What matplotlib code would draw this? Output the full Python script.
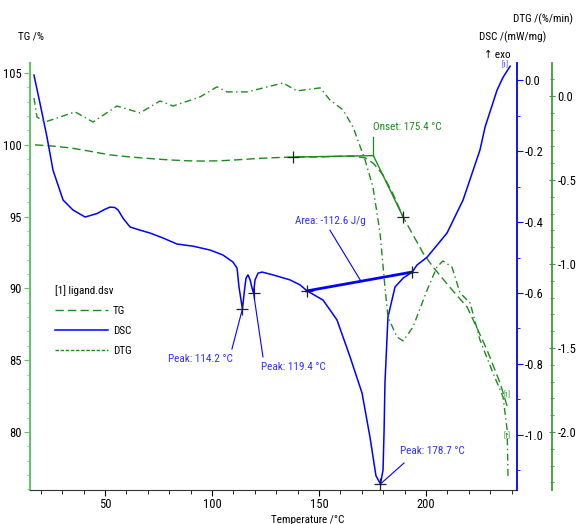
import matplotlib
matplotlib.use("Agg")
import matplotlib.pyplot as plt
from matplotlib.ticker import MultipleLocator, FormatStrFormatter
from matplotlib.lines import Line2D

plt.rcParams.update({
    "font.family": ["Roboto Condensed", "Liberation Sans Narrow", "DejaVu Sans"],
    "font.stretch": "condensed",
    "axes.unicode_minus": False,
    "font.size": 9,
})

# ---- data ----
tg_temp = [17.3, 25, 33.6, 42, 52.3, 62, 72.4, 80, 88.3, 96, 103.7, 111, 119.2,
           128, 137.9, 150.5, 164.5, 171.5, 175.5, 179.9, 184.5, 189.3, 198.6,
           203.3, 211, 219.2, 223, 228.5, 234.6, 238.3]
tg_mass = [100.0, 99.92, 99.79, 99.58, 99.30, 99.15, 99.03, 98.95, 98.89, 98.87,
           98.89, 98.95, 99.03, 99.10, 99.15, 99.16, 99.22, 99.10, 98.70, 97.90,
           96.6, 94.97, 92.46, 91.49, 90.1, 88.7, 87.5, 85.71, 83.41, 81.6]

dsc_temp = [16.8, 19.6, 22.9, 25.7, 30.4, 35.0, 40.7, 46.3, 50.0, 52.3, 54.5,
            56.1, 58.5, 61.7, 66.4, 71.0, 77.1, 83.6, 91.1, 99.1, 105.1, 109.8,
            111.7, 112.6, 114.2, 115.2, 115.9, 116.8, 117.8, 118.7, 119.4,
            120.1, 121.5, 123.4, 128.5, 136.4, 141.1, 144.4, 151.9, 158.4,
            164.5, 170.1, 173.8, 176.6, 178.7, 179.9, 180.4, 180.8, 182.2,
            185.5, 189.3, 193.5, 195.8, 200.5, 209.8, 217.3, 225.2, 227.6,
            233.2, 236.0, 239.3]
dsc_signal = [0.014, -0.065, -0.161, -0.254, -0.338, -0.366, -0.386, -0.376,
              -0.364, -0.358, -0.359, -0.366, -0.390, -0.414, -0.423, -0.431,
              -0.445, -0.462, -0.468, -0.479, -0.493, -0.513, -0.530, -0.583,
              -0.645, -0.59, -0.558, -0.549, -0.563, -0.586, -0.600, -0.563,
              -0.544, -0.541, -0.549, -0.563, -0.577, -0.594, -0.620, -0.676,
              -0.780, -0.882, -1.006, -1.115, -1.138, -1.099, -0.986, -0.854,
              -0.668, -0.583, -0.558, -0.541, -0.521, -0.499, -0.431, -0.338,
              -0.197, -0.132, -0.028, 0.008, 0.039]

dtg_temp = [16.8, 18.2, 22.0, 36.0, 44.4, 55.6, 66.4, 75.7, 81.8, 94.4, 102.3,
            107.0, 116.4, 133.2, 139.7, 150.5, 155.1, 161.2, 165.9, 171.5,
            175.2, 178.5, 180.8, 182.2, 186.4, 189.3, 193.9, 200.5, 205.1,
            207.9, 212.1, 215.9, 220.6, 225.2, 231.3, 236.0, 237.9, 238.3]
dtg_rate = [-0.012, -0.125, -0.155, -0.095, -0.155, -0.060, -0.101, -0.030,
            -0.060, -0.006, 0.054, 0.024, 0.024, 0.077, 0.030, 0.048, -0.024,
            -0.083, -0.185, -0.381, -0.542, -0.815, -1.137, -1.315, -1.434,
            -1.458, -1.375, -1.155, -1.018, -0.982, -1.018, -1.173, -1.232,
            -1.452, -1.649, -1.792, -1.988, -2.268]

# evaluation results
peak_temps = [114.2, 119.4, 178.7]
peak_values = [-0.645, -0.600, -1.138]
peak_label_pos = [(94.4, -0.786), (137.9, -0.808), (202.8, -1.045)]
peak_leader_start = [(109.3, -0.758), (123.8, -0.780), (189.7, -1.079)]
area_points_t = [144.4, 193.5]
area_points_v = [-0.594, -0.541]
area_label = "Area: -112.6 J/g"
onset_temp = 175.4
onset_mass = 99.25
onset_base_t, onset_base_m = 137.9, 99.15
onset_tan_t, onset_tan_m = 189.3, 94.97

GREEN = "#1e8a1e"
BLUE = "#0000ff"
TXT_BLUE = "#3030ff"

fig = plt.figure(figsize=(5.76, 5.24), dpi=100)
ax = fig.add_axes([30 / 576, 1 - 490 / 524, 487 / 576, 427 / 524])
ax2 = ax.twinx()
ax3 = ax.twinx()

ax.set_xlim(14.95, 242.5)
ax.set_ylim(75.96, 105.7)
ax2.set_ylim(-1.155, 0.048)
ax3.set_ylim(-2.345, 0.196)

# curves
ax.plot(tg_temp, tg_mass, color=GREEN, lw=1.0, dashes=(6, 3))
ax2.plot(dsc_temp, dsc_signal, color=BLUE, lw=1.1)
ax3.plot(dtg_temp, dtg_rate, color=GREEN, lw=1.0, dashes=(5, 2.5, 1, 2.5))

# onset construction on TG
ax.plot([onset_base_t, onset_temp], [onset_base_m, onset_mass], color=GREEN, lw=1.0)
ax.plot([onset_temp, onset_tan_t], [onset_mass, onset_tan_m], color=GREEN, lw=1.0)
ax.plot([onset_temp, onset_temp], [onset_mass, 100.54], color=GREEN, lw=0.9)
ax.plot([onset_base_t, onset_tan_t], [onset_base_m, onset_tan_m], ls="none",
        marker="+", ms=9, mew=0.9, color="#222222")
ax.text(onset_temp, 100.9, "Onset: 175.4 \u00b0C", color=GREEN, fontsize=8,
        ha="left", va="bottom")

# DSC area baseline
ax2.plot(area_points_t, area_points_v, color=BLUE, lw=2.0)
ax2.plot(area_points_t, area_points_v, ls="none", marker="+", ms=9, mew=0.9,
         color="#222222")
ax2.text(155.1, -0.397, area_label, color=TXT_BLUE, fontsize=8, ha="center",
         va="center")
ax2.plot([155.1, 169.2], [-0.423, -0.563], color=BLUE, lw=0.8)

# DSC peaks
ax2.plot(peak_temps, peak_values, ls="none", marker="+", ms=9, mew=0.9,
         color="#222222")
for t, v, (lx, ly), (sx, sy) in zip(peak_temps, peak_values, peak_label_pos,
                                    peak_leader_start):
    ax2.plot([sx, t], [sy, v], color=BLUE, lw=0.8)
    ax2.text(lx, ly, f"Peak: {t:.1f} \u00b0C", color=TXT_BLUE, fontsize=8,
             ha="center", va="center")

# end markers
ax2.text(237.0, 0.030, "[1]", color=TXT_BLUE, fontsize=5, ha="center", va="bottom")
ax.text(238.0, tg_mass[-1] + 0.7, "[1]", color=GREEN, fontsize=5, ha="center",
        va="bottom")
ax3.text(238.0, -2.05, "[1]", color=GREEN, fontsize=5, ha="center", va="bottom")

# axes styling
for s in ["top", "right"]:
    ax.spines[s].set_visible(False)
ax.spines["left"].set_color("#6cbf6c")
ax.spines["left"].set_linewidth(1.5)
ax.spines["bottom"].set_color("#333333")
for s in ["top", "left", "bottom"]:
    ax2.spines[s].set_visible(False)
    ax3.spines[s].set_visible(False)
ax2.spines["right"].set_color(BLUE)
ax2.spines["right"].set_linewidth(1.3)
ax3.spines["right"].set_position(("axes", 1.072))
ax3.spines["right"].set_color("#3c9c3c")
ax3.spines["right"].set_linewidth(1.3)

ax.xaxis.set_major_locator(MultipleLocator(50))
ax.xaxis.set_minor_locator(MultipleLocator(10))
ax.yaxis.set_major_locator(MultipleLocator(5))
ax.yaxis.set_minor_locator(MultipleLocator(1))
ax2.yaxis.set_major_locator(MultipleLocator(0.2))
ax2.yaxis.set_minor_locator(MultipleLocator(0.1))
ax2.yaxis.set_major_formatter(FormatStrFormatter("%.1f"))
ax3.yaxis.set_major_locator(MultipleLocator(0.5))
ax3.yaxis.set_minor_locator(MultipleLocator(0.1))
ax3.yaxis.set_major_formatter(FormatStrFormatter("%.1f"))

ax.tick_params(axis="x", which="major", length=4, width=0.8, labelsize=9, pad=1.5)
ax.tick_params(axis="x", which="minor", length=3, width=0.6)
ax.tick_params(axis="y", which="major", length=4, width=0.8, labelsize=9, pad=2,
               color="#6cbf6c")
ax.tick_params(axis="y", which="minor", length=2.5, width=0.6, color="#6cbf6c")
ax2.tick_params(axis="y", which="major", length=4, width=0.8, labelsize=9, pad=1.5,
                color=BLUE)
ax2.tick_params(axis="y", which="minor", length=2.5, width=0.6, color=BLUE)
ax3.tick_params(axis="y", which="major", length=4, width=0.8, labelsize=9, pad=2,
                color="#3c9c3c", direction="inout")
ax3.tick_params(axis="y", which="minor", length=3, width=0.6, color="#3c9c3c",
                direction="inout")

# axis titles
fig.text(31 / 576, 1 - 37 / 524, "TG /%", fontsize=8, ha="center", va="center")
fig.text(513 / 576, 1 - 37 / 524, "DSC /(mW/mg)", fontsize=8, ha="center", va="center")
fig.text(497 / 576, 1 - 55 / 524, "\u2191 exo", fontsize=8, ha="center", va="center")
fig.text(573 / 576, 1 - 19 / 524, "DTG /(%/min)", fontsize=8, ha="right", va="center")
fig.text(308 / 576, 1 - 520 / 524, "Temperature /\u00b0C", fontsize=8, ha="center",
         va="center")

# legend
handles = [Line2D([], [], color=GREEN, lw=1.0, dashes=(6, 3)),
           Line2D([], [], color=BLUE, lw=1.1),
           Line2D([], [], color=GREEN, lw=1.0, dashes=(2.5, 1.2))]
leg = ax.legend(handles, ["TG", "DSC", "DTG"], title="[1] ligand.dsv",
                loc="upper left", bbox_to_anchor=(55 / 576, 1 - 285 / 524),
                bbox_transform=fig.transFigure, frameon=False, fontsize=8,
                title_fontsize=8, handlelength=4.8, handletextpad=0.4,
                labelspacing=0.9, borderpad=0, borderaxespad=0,
                alignment="left")

fig.savefig("out.png", dpi=100)
